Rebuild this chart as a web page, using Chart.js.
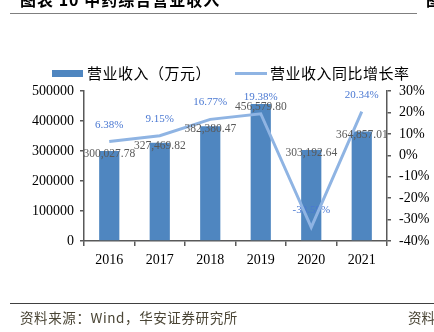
<!DOCTYPE html>
<html>
<head>
<meta charset="utf-8">
<script src="https://cdn.jsdelivr.net/npm/chart.js@4.4.1/dist/chart.umd.min.js"></script>
<style>
  html, body { margin: 0; padding: 0; background: #fff; }
  #wrap { position: relative; width: 434px; height: 332px; overflow: hidden; background: #fff; }
  #chartBox { position: absolute; left: 0; top: 0; width: 434px; height: 332px; }
  .cjk { font-family: "Noto Sans CJK SC", "Noto Sans", sans-serif; }
  #title { position: absolute; left: 20px; top: -11px; font-size: 16px; font-weight: bold; color: #000; white-space: nowrap; line-height: 20px; letter-spacing: 1px; }
  #titleR { position: absolute; left: 426px; top: -11px; font-size: 16px; font-weight: bold; color: #000; line-height: 20px; }
  #topLine { position: absolute; left: 10px; top: 13px; width: 407px; height: 0; border-top: 1.5px solid #7f7f7f; }
  #botLine { position: absolute; left: 10px; top: 303px; width: 424px; height: 0; border-top: 1.5px solid #404040; }
  #src { position: absolute; left: 20px; top: 308px; font-size: 13.5px; color: #4a4535; white-space: nowrap; line-height: 18px; letter-spacing: 0.6px; }
  #srcR { position: absolute; left: 408px; top: 308px; font-size: 13.5px; color: #4a4535; white-space: nowrap; line-height: 18px; }
  #legend { position: absolute; left: 0; top: 63px; height: 20px; width: 434px; }
  .lgItem { position: absolute; top: 0; height: 20px; line-height: 20px; font-size: 15px; color: #000; white-space: nowrap; letter-spacing: 0.5px; }
  .swBar { position: absolute; top: 7px; width: 31px; height: 7px; background: #4f86c0; }
  .swLine { position: absolute; top: 9px; width: 32px; height: 3px; background: #8fb4e3; }
</style>
</head>
<body>
<div id="wrap">
  <div id="chartBox"><canvas id="c" width="434" height="332"></canvas></div>
  <div id="title" class="cjk"></div>
  <div id="titleR" class="cjk">图</div>
  <div id="topLine"></div>
  <div id="legend">
    <div class="swBar" style="left:52px"></div>
    <div class="lgItem cjk" id="lg1" style="left:87px"></div>
    <div class="swLine" style="left:235px"></div>
    <div class="lgItem cjk" id="lg2" style="left:270px"></div>
  </div>
  <div id="botLine"></div>
  <div id="src" class="cjk"></div>
  <div id="srcR" class="cjk">资料</div>
</div>
<script>
const titleText = "图表 10 中药综合营业收入";
const sourceText = "资料来源：Wind，华安证券研究所";
const categories = ["2016", "2017", "2018", "2019", "2020", "2021"];
const revenueName = "营业收入（万元）";
const growthName = "营业收入同比增长率";
const revenue = [300027.78, 327469.82, 382380.47, 456579.80, 303192.64, 364857.01];
const growth = [6.38, 9.15, 16.77, 19.38, -33.59, 20.34];
const leftTicks = [0, 100000, 200000, 300000, 400000, 500000];
const rightTicks = [-40, -30, -20, -10, 0, 10, 20, 30];

document.getElementById('title').textContent = titleText;
document.getElementById('src').textContent = sourceText;
document.getElementById('lg1').textContent = revenueName;
document.getElementById('lg2').textContent = growthName;

const serif = '"Liberation Serif", "Times New Roman", serif';

function fmtMoney(v) {
  return v.toLocaleString('en-US', { minimumFractionDigits: 2, maximumFractionDigits: 2 });
}

const labelPlugin = {
  id: 'valueLabels',
  afterDatasetDraw(chart, args) {
    // percent labels drawn after the bars, beneath the line
    if (args.index !== 1) return;
    const ctx = chart.ctx;
    ctx.save();
    ctx.textAlign = 'center';
    ctx.textBaseline = 'middle';
    ctx.font = '11px ' + serif;
    ctx.fillStyle = '#4a78d2';
    chart.getDatasetMeta(0).data.forEach((el, i) => {
      ctx.fillText(growth[i].toFixed(2) + '%', el.x, el.y - 17);
    });
    ctx.restore();
  },
  afterDatasetsDraw(chart) {
    const ctx = chart.ctx;
    ctx.save();
    ctx.textAlign = 'center';
    ctx.textBaseline = 'middle';
    ctx.font = '11.5px ' + serif;
    ctx.fillStyle = '#595959';
    chart.getDatasetMeta(1).data.forEach((el, i) => {
      ctx.fillText(fmtMoney(revenue[i]), el.x, el.y + 3);
    });
    ctx.restore();
  }
};

new Chart(document.getElementById('c'), {
  data: {
    labels: categories,
    datasets: [
      {
        type: 'line', label: growthName, data: growth, yAxisID: 'y1',
        borderColor: '#8fb4e3', borderWidth: 3, pointRadius: 0, tension: 0, order: 0
      },
      {
        type: 'bar', label: revenueName, data: revenue, yAxisID: 'y',
        backgroundColor: '#4f86c0', categoryPercentage: 1, barPercentage: 0.4, order: 1
      }
    ]
  },
  plugins: [labelPlugin],
  options: {
    responsive: false,
    animation: false,
    devicePixelRatio: 1,
    layout: { padding: { top: 91, left: 0, right: 0, bottom: 0 } },
    plugins: { legend: { display: false }, tooltip: { enabled: false }, title: { display: false } },
    scales: {
      x: {
        offset: true,
        grid: { display: true, offset: true, drawOnChartArea: false, drawTicks: true, tickLength: 5, color: '#595959', lineWidth: 1.5 },
        border: { display: true, color: '#595959', width: 1.5 },
        ticks: { color: '#000', font: { family: serif, size: 14 }, padding: 6, maxRotation: 0 },
        afterFit(s) { s.height = 91; }
      },
      y: {
        position: 'left', min: 0, max: 500000,
        afterBuildTicks(s) { s.ticks = leftTicks.map(v => ({ value: v })); },
        grid: { display: true, drawOnChartArea: false, drawTicks: true, tickLength: 4, color: '#595959', lineWidth: 1.5 },
        border: { display: true, color: '#595959', width: 1.5 },
        ticks: { color: '#000', font: { family: serif, size: 14 }, padding: 6, callback: v => String(v) },
        afterFit(s) { s.width = 84; }
      },
      y1: {
        position: 'right', min: -40, max: 30,
        afterBuildTicks(s) { s.ticks = rightTicks.map(v => ({ value: v })); },
        grid: { display: true, drawOnChartArea: false, drawTicks: true, tickLength: 4, color: '#595959', lineWidth: 1.5 },
        border: { display: true, color: '#595959', width: 1.5 },
        ticks: { color: '#000', font: { family: serif, size: 14 }, padding: 8, callback: v => v + '%' },
        afterFit(s) { s.width = 47; }
      }
    }
  }
});
</script>
</body>
</html>
